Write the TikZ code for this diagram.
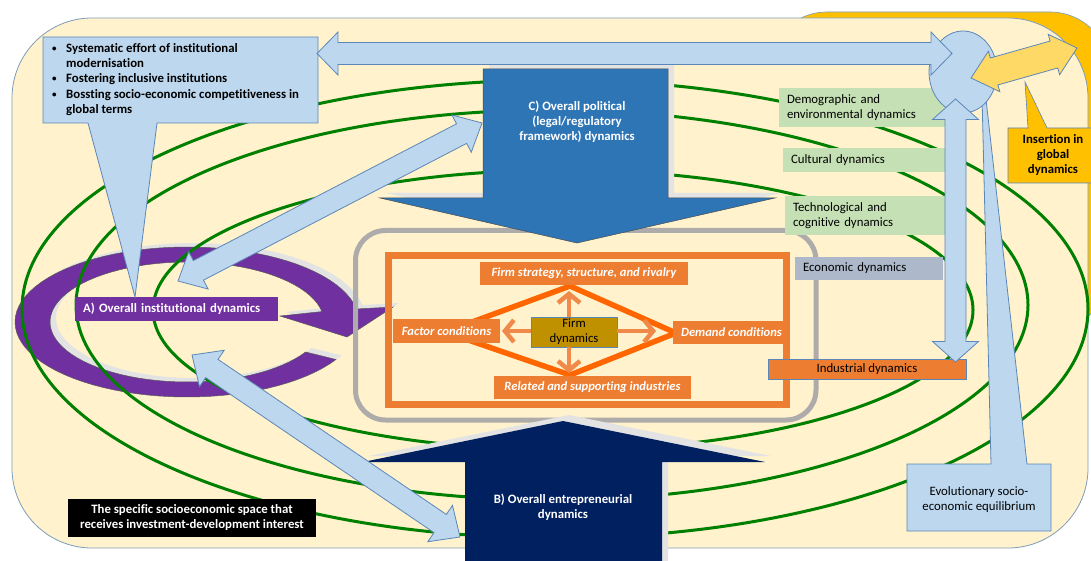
\documentclass[tikz,border=0pt]{standalone}
\usepackage{fontspec}
\setmainfont{Carlito}[Ligatures=NoCommon]
\usetikzlibrary{calc,arrows.meta}
\definecolor{cream}{HTML}{FFF2CC}
\definecolor{goldbg}{HTML}{FFC000}
\definecolor{edgeb}{HTML}{7F9DB9}
\definecolor{grn}{HTML}{008000}
\definecolor{purp}{HTML}{7030A0}
\definecolor{shgray}{HTML}{E3E3E3}
\definecolor{rectgray}{HTML}{AEABAB}
\definecolor{orng}{HTML}{ED7D31}
\definecolor{diaor}{HTML}{FF6600}
\definecolor{parrc}{HTML}{F08A4B}
\definecolor{firmgold}{HTML}{BF9000}
\definecolor{lblue}{HTML}{BDD7EE}
\definecolor{lbdraw}{HTML}{5B87B8}
\definecolor{cblue}{HTML}{2E75B6}
\definecolor{navy}{HTML}{002060}
\definecolor{lgreen}{HTML}{C5E0B4}
\definecolor{econ}{HTML}{ADB9CA}
\definecolor{yel}{HTML}{FFD966}
\newcommand{\dblarrow}[6]{%
  \coordinate (da) at ($(#2)!#6!(#3)$);
  \coordinate (db) at ($(#3)!#6!(#2)$);
  \filldraw[#1] (#2) -- ($(da)!#5!90:(#3)$) -- ($(da)!#4!90:(#3)$)
    -- ($(db)!#4!-90:(#2)$) -- ($(db)!#5!-90:(#2)$) -- (#3)
    -- ($(db)!#5!90:(#2)$) -- ($(db)!#4!90:(#2)$)
    -- ($(da)!#4!-90:(#3)$) -- ($(da)!#5!-90:(#3)$) -- cycle;}
\tikzset{
  fs/.style={font=\fontsize{12.8}{15}\selectfont},
  fsb/.style={font=\fontsize{12.8}{15}\selectfont\bfseries},
  grline/.style={draw=grn, line width=3pt},
  lbarrow/.style={fill=lblue, draw=lbdraw, line width=0.8pt, line join=miter},
  porter/.style={fill=orng, text=white, inner sep=0pt, font=\fontsize{12.6}{15}\selectfont\bfseries\itshape},
  rlab/.style={inner xsep=8pt, inner ysep=0pt, align=left, fs, text=black},
  parr/.style={draw=parrc, line width=4.5pt, -{Straight Barb[length=9pt,width=22pt]}},
}
\begin{document}
\begin{tikzpicture}[x=1pt,y=-1pt]
\useasboundingbox (0,0) rectangle (1091,561);
\fill[white] (0,0) rectangle (1091,561);
% backgrounds
\filldraw[fill=goldbg, draw=edgeb, line width=0.6pt, rounded corners=60pt] (767,12) rectangle (1110,330);
\filldraw[fill=cream, draw=edgeb, line width=0.8pt, rounded corners=80pt] (12,18) rectangle (1088,548);
% purple circular arrow (shadow then fill)
\def\purpath{plot[domain=30:350, samples=80] ({187+172*cos(\x)},{322+75*sin(\x)}) -- (393,307) -- (347,337) -- (280,316) -- plot[domain=350:30, samples=80] ({187+137*cos(\x)},{322+60*sin(\x)}) -- cycle}
\fill[shgray, shift={(6,-4)}] \purpath;
\filldraw[fill=purp, draw=black!65, line width=0.5pt] \purpath;
% green ellipses
\draw[grline] (555,309) ellipse [x radius=533pt, y radius=229pt];
\draw[grline] (552,305) ellipse [x radius=476pt, y radius=195pt];
\draw[grline] (563,310) ellipse [x radius=410pt, y radius=140pt];
% gray and orange frames
\draw[rectgray, line width=5pt, rounded corners=30pt] (355.5,230.5) rectangle (816,420);
\draw[orng, line width=7pt] (388.5,255.5) rectangle (786.5,404.5);
% Porter diamond
\coordinate (dT) at (570,286);
\coordinate (dL) at (445,332);
\coordinate (dR) at (676,333);
\coordinate (dB) at (570,375);
\draw[diaor, line width=5.5pt, line join=miter] (dT) -- (dR) -- (dB) -- (dL) -- cycle;
% firm dynamics + arrows
\node[fill=firmgold, draw=lbdraw, line width=0.6pt, minimum width=86pt, minimum height=30pt, inner sep=0pt, align=center, fs] (fd) at (574,332) {Firm\\dynamics};
\coordinate (pu) at (569,291);
\coordinate (pd) at (569,373);
\coordinate (pl) at (502,331);
\coordinate (pr) at (656,331);
\draw[parr] (fd.north -| pu) -- (pu);
\draw[parr] (fd.south -| pd) -- (pd);
\draw[parr] (fd.west |- pl) -- (pl);
\draw[parr] (fd.east |- pr) -- (pr);
\node[porter, minimum width=208pt, minimum height=23pt] (fs) at (584,273.5) {Firm strategy, structure, and rivalry};
\node[porter, minimum width=107pt, minimum height=24pt] (fc) at (446.5,331) {Factor conditions};
\node[porter, minimum width=117pt, minimum height=23pt] (dc) at (731.5,332.5) {Demand conditions};
\node[porter, minimum width=197pt, minimum height=23pt] (rs) at (592.5,387.5) {Related and supporting industries};
% big arrow C
\def\cpath{(483,69) -- (668,69) -- (668,198) -- (775,198) -- (577,243) -- (380,198) -- (483,198) -- cycle}
\fill[shgray, shift={(6,-5)}] \cpath;
\filldraw[fill=cblue, draw=black!70, line width=0.5pt] \cpath;
\node[fsb, text=white, align=center] (ctext) at (577,122) {C) Overall political\\(legal/regulatory\\framework) dynamics};
% big arrow B
\def\bpath{(465,575) -- (465,462) -- (363,462) -- (563,421) -- (765,462) -- (662,462) -- (662,575) -- cycle}
\fill[shgray, shift={(6,-6)}] \bpath;
\fill[navy] \bpath;
\node[fsb, text=white, align=center] (btext) at (563,507.5) {B) Overall entrepreneurial\\dynamics};
% diagonal double arrows
\coordinate (d1a) at (178,281);
\coordinate (d1b) at (482,123);
\coordinate (d2a) at (192,355);
\coordinate (d2b) at (460,537);
\dblarrow{lbarrow}{d1a}{d1b}{11pt}{21pt}{23pt}
\dblarrow{lbarrow}{d2a}{d2b}{11pt}{22pt}{24pt}
% A label
\node[fill=purp, text=white, fsb, minimum width=203pt, minimum height=24pt, text width=187pt, inner xsep=8pt, inner ysep=0pt, align=left] (alab) at (176.5,309) {A) Overall institutional dynamics};
% black label
\node[fill=black, text=white, fsb, minimum width=248pt, minimum height=38pt, inner sep=0pt, align=center] (space) at (192,518) {The specific socioeconomic space that\\receives investment-development interest};
% top-left callout
\filldraw[lbarrow] (43,37) -- (318,37) -- (318,123) -- (157,123) -- (135,297) -- (88,123) -- (43,123) -- cycle;
\foreach \yy/\tt in {53/Systematic effort of institutional, 68/modernisation, 83/Fostering inclusive institutions, 99/Bossting socio-economic competitiveness in, 114/global terms}
  \node[fsb, anchor=base west, inner sep=0pt] at (66,\yy) {\tt};
\foreach \yy in {52,82,98}
  \node[font=\fontsize{9}{10}\selectfont\bfseries, anchor=base west, inner sep=0pt] at (52,\yy) {\textbullet};
% right labels
\node[rlab, fill=lgreen, minimum width=166pt, minimum height=39pt, text width=150pt] (demo) at (862,107.5) {Demographic and\\environmental dynamics};
\node[rlab, fill=lgreen, minimum width=162pt, minimum height=24pt, text width=146pt] (cult) at (864,160) {Cultural dynamics};
\node[rlab, fill=lgreen, minimum width=160pt, minimum height=39pt, text width=144pt] (tech) at (865,215.5) {Technological and\\cognitive dynamics};
\node[rlab, fill=econ, minimum width=148pt, minimum height=23pt, text width=132pt] (econ) at (869,268.5) {Economic dynamics};
\node[fill=orng, draw=lbdraw, line width=0.6pt, fs, inner sep=0pt, minimum width=198pt, minimum height=20pt] (indus) at (867,369) {Industrial dynamics};
% evolutionary callout
\filldraw[lbarrow] (907,464) -- (991,464) -- (981,55) -- (1027,464) -- (1051,464) -- (1051,531) -- (907,531) -- cycle;
\node[fs, align=center] (evo) at (979,499.5) {Evolutionary socio-\\economic equilibrium};
% circle hub
\filldraw[lbarrow] (963,72) ellipse [x radius=34pt, y radius=41pt];
\node[inner sep=0pt] (hub) at (963,72) {};
% hub arrows
\coordinate (hL) at (317,53.5);
\coordinate (hR) at (952,53.5);
\coordinate (vT) at (955.5,99);
\coordinate (vB) at (955.5,362);
\dblarrow{lbarrow}{hL}{hR}{11pt}{21.5pt}{21pt}
\dblarrow{lbarrow}{vT}{vB}{10.5pt}{23pt}{20.5pt}
% insertion callout
\filldraw[fill=goldbg, draw=lbdraw, line width=0.6pt] (1008,128) -- (1028,128) -- (1025,82) -- (1047,128) -- (1100,128) -- (1100,183) -- (1008,183) -- cycle;
\node[fsb, align=center] (ins) at (1053,155.5) {Insertion in\\global\\dynamics};
% yellow double arrow
\coordinate (yA) at (971,78);
\coordinate (yB) at (1077,48);
\dblarrow{fill=yel, draw=lbdraw, line width=0.8pt, line join=miter}{yA}{yB}{14pt}{21pt}{24pt}
\end{tikzpicture}
\end{document}
